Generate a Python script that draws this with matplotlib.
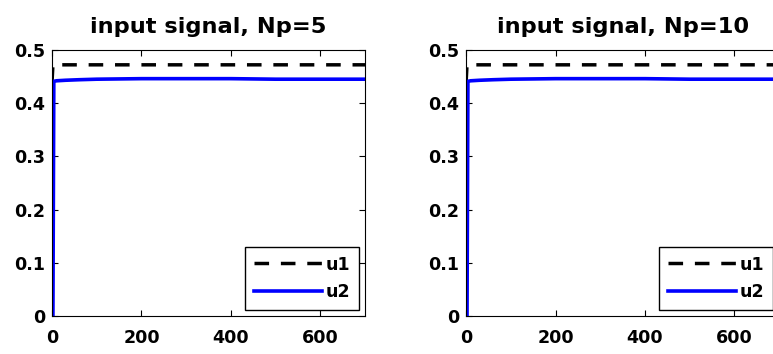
import numpy as np
import matplotlib
matplotlib.use('Agg')
import matplotlib.pyplot as plt

plt.rcParams['font.family'] = ['DejaVu Sans']
plt.rcParams['font.weight'] = 'bold'

# time samples and input signals
t = [0, 2, 4, 10, 30, 60, 100, 200, 300, 400, 500, 600, 700]
u1_np5 = [0.44, 0.472, 0.472, 0.472, 0.472, 0.472, 0.472, 0.472, 0.472, 0.472, 0.472, 0.472, 0.472]
u2_np5 = [0.0, 0.0, 0.441, 0.442, 0.443, 0.444, 0.445, 0.446, 0.446, 0.446, 0.445, 0.445, 0.445]
u1_np10 = [0.44, 0.472, 0.472, 0.472, 0.472, 0.472, 0.472, 0.472, 0.472, 0.472, 0.472, 0.472, 0.472]
u2_np10 = [0.0, 0.0, 0.441, 0.442, 0.443, 0.444, 0.445, 0.446, 0.446, 0.446, 0.445, 0.445, 0.445]

titles = ['input signal, Np=5', 'input signal, Np=10']
xticks = [0, 200, 400, 600]
yticks = [0, 0.1, 0.2, 0.3, 0.4, 0.5]
ytick_labels = ['0', '0.1', '0.2', '0.3', '0.4', '0.5']

fig = plt.figure(figsize=(7.73, 3.54), dpi=100)
positions = [[0.0673, 0.107, 0.405, 0.752], [0.603, 0.107, 0.405, 0.752]]
series = [(u1_np5, u2_np5), (u1_np10, u2_np10)]

for pos, title, (u1, u2) in zip(positions, titles, series):
    ax = fig.add_axes(pos)
    ax.plot(t, u1, '--', color='black', lw=2.5, dashes=(4.2, 3.4), label='u1')
    ax.plot(t, u2, '-', color='#0000ff', lw=2.6, label='u2')
    ax.set_xlim(0, 700)
    ax.set_ylim(0, 0.5)
    ax.set_xticks(xticks)
    ax.set_yticks(yticks)
    ax.set_yticklabels(ytick_labels)
    ax.tick_params(direction='in', top=True, right=True, labelsize=12.6, length=4, width=0.8)
    ax.tick_params(axis='x', pad=9)
    ax.tick_params(axis='y', pad=5)
    for lab in ax.get_xticklabels() + ax.get_yticklabels():
        lab.set_fontweight('bold')
    ax.set_title(title, fontsize=16.2, fontweight='bold', pad=12)
    leg = ax.legend(loc='lower right', fontsize=12.6, fancybox=False, framealpha=1,
                    edgecolor='black', handlelength=3.9, handletextpad=0.2,
                    borderpad=0.5, labelspacing=0.55, borderaxespad=0.35)
    leg.get_frame().set_linewidth(1.0)

fig.savefig('out.png', dpi=100)
